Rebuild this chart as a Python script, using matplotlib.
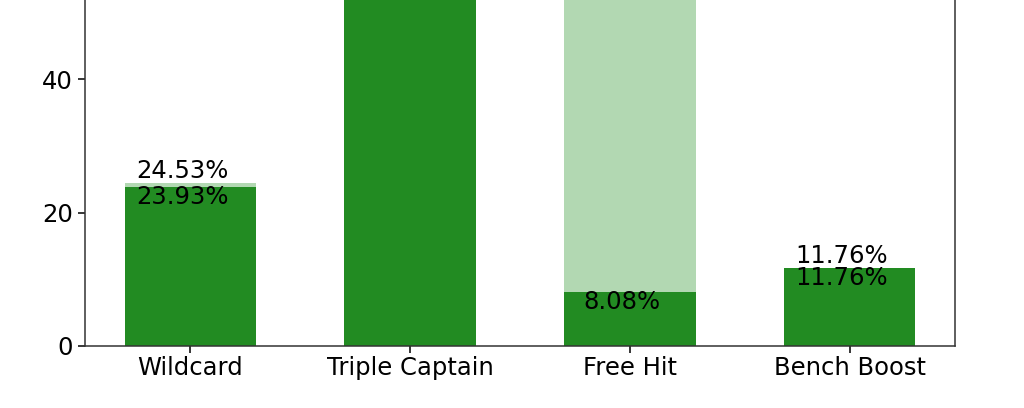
import numpy as np
import matplotlib.pyplot as plt

# chip usage (%), light = all managers, dark = top managers
chips = ['Wildcard', 'Triple Captain', 'Free Hit', 'Bench Boost']
share_all = [24.53, 60.42, 61.35, 11.76]
share_top = [23.93, 66.18, 8.08, 11.76]

fig = plt.figure(figsize=(10.24, 4.08), dpi=100)
ax = fig.add_axes([0.083, 0.152, 0.8496, 1.176])

x = np.arange(len(chips))
ax.bar(x, share_all, width=0.6, color='green', alpha=0.3)
ax.bar(x, share_top, width=0.6, color='forestgreen')

for i in range(len(chips)):
    ax.text(x[i] - 0.035, share_all[i], f'{share_all[i]:.2f}%',
            ha='center', va='bottom', fontsize=17.5)
    ax.text(x[i] - 0.035, share_top[i] + 0.3, f'{share_top[i]:.2f}%',
            ha='center', va='top', fontsize=17.5)

ax.set_xticks(x)
ax.set_xticklabels(chips)
ax.set_ylim(0, 72)
ax.set_yticks([0, 20, 40, 60])
ax.tick_params(labelsize=17.5, length=5, width=1.1)
ax.tick_params(axis='x', pad=2)
ax.tick_params(axis='y', pad=3.5)
for s in ax.spines.values():
    s.set_linewidth(1.1)
    s.set_color('#333333')

fig.savefig('out.png', dpi=100)
